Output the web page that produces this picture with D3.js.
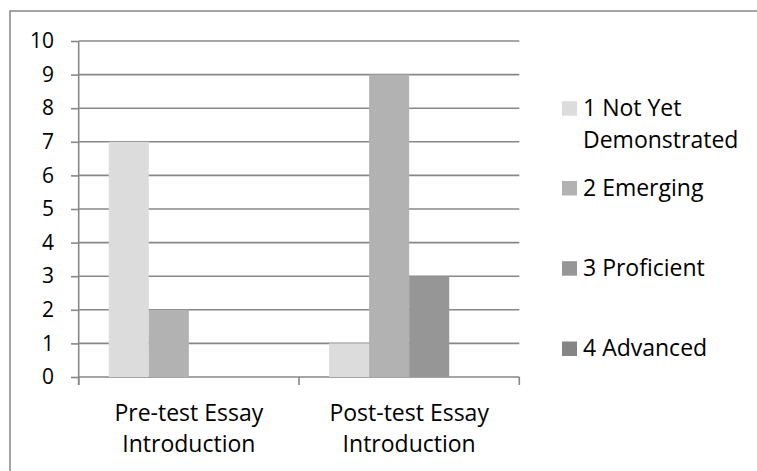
<!DOCTYPE html>
<html>
<head>
<meta charset="utf-8">
<script src="https://cdn.jsdelivr.net/npm/d3@7"></script>
<style>
  html, body { margin: 0; padding: 0; background: #fff; }
  svg { display: block; }
  text { font-family: "Open Sans", "Noto Sans", sans-serif; fill: #000; }
</style>
</head>
<body>
<svg id="chart" width="757" height="471"></svg>
<script>
// Essay introduction ratings, counts of students per level
const categories = [["Pre-test Essay", "Introduction"], ["Post-test Essay", "Introduction"]];
const levels = ["1 Not Yet Demonstrated", "2 Emerging", "3 Proficient", "4 Advanced"];
const legendLines = [["1 Not Yet", "Demonstrated"], ["2 Emerging"], ["3 Proficient"], ["4 Advanced"]];
const preTest = [7, 2, 0, 0];
const postTest = [1, 9, 3, 0];
const yTicks = [0, 1, 2, 3, 4, 5, 6, 7, 8, 9, 10];
const colors = ["#dcdcdc", "#b2b2b2", "#969696", "#858585"];

const series = [preTest, postTest];
const svg = d3.select("#chart");
const gridColor = "#878787";

const plotLeft = 78.7, plotRight = 519.3, plotTop = 41, plotBottom = 377;

// outer frame (runs off the right and bottom edges)
svg.append("rect")
  .attr("x", 10).attr("y", 11)
  .attr("width", 760).attr("height", 480)
  .attr("fill", "none").attr("stroke", gridColor).attr("stroke-width", 1.5);

const y = d3.scaleLinear().domain([0, 10]).range([plotBottom, plotTop]);
const x0 = d3.scaleBand().domain(d3.range(categories.length))
  .range([plotLeft, plotRight]).paddingInner(60 / 220).paddingOuter(30 / 220);
const x1 = d3.scaleBand().domain(d3.range(levels.length)).range([0, x0.bandwidth()]);

// horizontal gridlines
svg.append("g").selectAll("line").data(yTicks).join("line")
  .attr("x1", plotLeft).attr("x2", plotRight)
  .attr("y1", d => y(d)).attr("y2", d => y(d))
  .attr("stroke", gridColor).attr("stroke-width", 1.6);

// bars
const groups = svg.append("g").selectAll("g").data(series).join("g")
  .attr("transform", (d, i) => `translate(${x0(i)},0)`);
groups.selectAll("rect").data(d => d).join("rect")
  .attr("x", (d, j) => x1(j))
  .attr("width", x1.bandwidth())
  .attr("y", d => y(d))
  .attr("height", d => y(0) - y(d))
  .attr("fill", (d, j) => colors[j]);

// y axis
const yAxis = d3.axisLeft(y).tickValues(yTicks).tickSize(7.7).tickPadding(17)
  .tickFormat(d3.format("d"));
const gy = svg.append("g").attr("transform", `translate(${plotLeft},0)`).call(yAxis);
gy.attr("font-size", null).attr("font-family", null);
gy.select(".domain").remove();
gy.selectAll(".tick line").attr("stroke", gridColor).attr("stroke-width", 1.6);
gy.selectAll(".tick text")
  .style("font-size", "21px")
  .style("font-family", "'Open Sans', sans-serif")
  .attr("fill", "#000");
svg.append("line")
  .attr("x1", plotLeft).attr("x2", plotLeft).attr("y1", plotTop).attr("y2", plotBottom + 8)
  .attr("stroke", gridColor).attr("stroke-width", 1.6);

// category separator ticks along the base
const step = x0.step();
svg.append("g").selectAll("line").data(d3.range(categories.length + 1)).join("line")
  .attr("x1", i => plotLeft + i * step).attr("x2", i => plotLeft + i * step)
  .attr("y1", plotBottom).attr("y2", plotBottom + 8)
  .attr("stroke", gridColor).attr("stroke-width", 1.6);

// category labels
const catLabels = svg.append("g").selectAll("text").data(categories).join("text")
  .attr("text-anchor", "middle")
  .style("font-size", "23px")
  .attr("transform", (d, i) => `translate(${x0(i) + x0.bandwidth() / 2},420.7)`);
catLabels.selectAll("tspan").data(d => d).join("tspan")
  .attr("x", 0).attr("y", (d, k) => k * 31.6).text(d => d);

// legend
const legendBase = [115.7, 195.5, 275.7, 356];
const legend = svg.append("g").selectAll("g").data(legendLines).join("g")
  .attr("transform", (d, i) => `translate(562,${legendBase[i]})`);
legend.append("rect")
  .attr("x", 0).attr("y", -14.5).attr("width", 15).attr("height", 14.5)
  .attr("fill", (d, i) => colors[i]);
const lt = legend.append("text").style("font-size", "23px");
lt.selectAll("tspan").data(d => d).join("tspan")
  .attr("x", 21).attr("y", (d, k) => k * 32).text(d => d);
</script>
</body>
</html>
